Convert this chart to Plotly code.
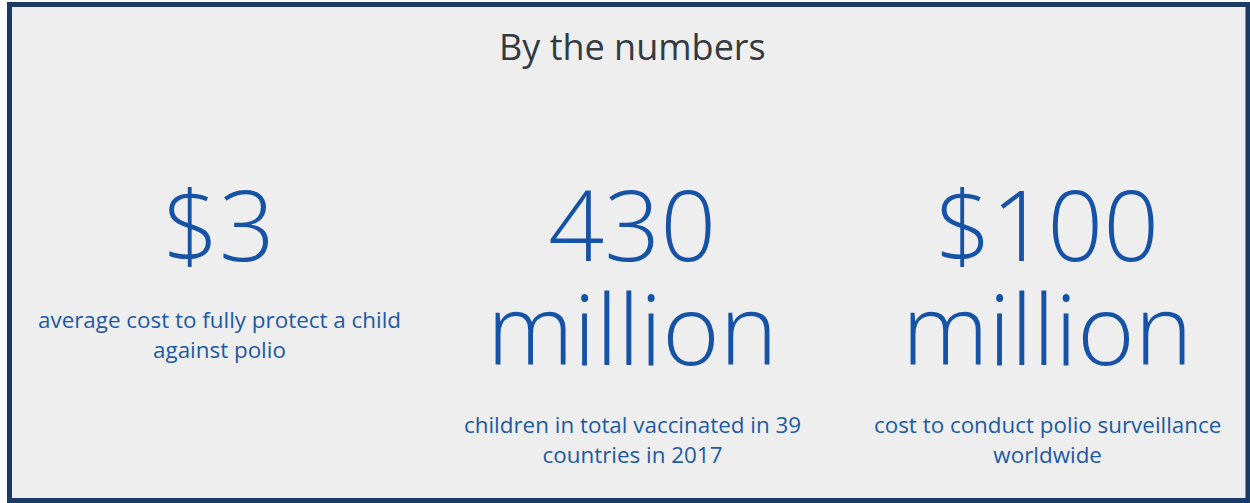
import plotly.graph_objects as go

title = "By the numbers"
big_lines = [["$3"], ["430", "million"], ["$100", "million"]]
small_lines = [
    ["average cost to fully protect a child", "against polio"],
    ["children in total vaccinated in 39", "countries in 2017"],
    ["cost to conduct polio surveillance", "worldwide"],
]

W, H = 1250, 503
col_x = [219, 632, 1047]

BIG_SIZE = 98
BIG_STEP = 104
SMALL_SIZE = 22.4
SMALL_STEP = 30
TITLE_SIZE = 36
big_base = [261, 261, 261]     # baseline of first big line (px from top)
small_base = [328, 433, 433]   # baseline of first small line

BIG_COLOR = "#1653a6"
SMALL_COLOR = "#1d5aa3"
TITLE_COLOR = "#333a42"


def center_for(baseline, n, size, step):
    # vertical centre of a text block whose first baseline is given
    if n == 1:
        return baseline - 0.388 * size
    return baseline + ((n - 1) * step - 0.776 * size) / 2


def block(lines, size, step):
    base = step / 1.3
    return "<br>".join(f"<span style='font-size:{size}px'>{t}</span>" for t in lines), base


fig = go.Figure()
anns = [dict(text=title, x=632.5 / W, y=1 - center_for(60, 1, TITLE_SIZE, 0) / H,
             xref="paper", yref="paper", showarrow=False,
             xanchor="center", yanchor="middle",
             font=dict(family="Open Sans", size=TITLE_SIZE, color=TITLE_COLOR))]

for i, lines in enumerate(big_lines):
    txt, base = block(lines, BIG_SIZE, BIG_STEP)
    cy = center_for(big_base[i], len(lines), BIG_SIZE, BIG_STEP)
    anns.append(dict(text=txt, x=col_x[i] / W, y=1 - cy / H,
                     xref="paper", yref="paper", showarrow=False,
                     xanchor="center", yanchor="middle", align="center",
                     font=dict(family="Open Sans", size=base, color=BIG_COLOR, weight=300)))

for i, lines in enumerate(small_lines):
    txt, base = block(lines, SMALL_SIZE, SMALL_STEP)
    cy = center_for(small_base[i], len(lines), SMALL_SIZE, SMALL_STEP)
    anns.append(dict(text=txt, x=col_x[i] / W, y=1 - cy / H,
                     xref="paper", yref="paper", showarrow=False,
                     xanchor="center", yanchor="middle", align="center",
                     font=dict(family="Open Sans", size=base, color=SMALL_COLOR)))

fig.update_layout(
    width=W, height=H,
    margin=dict(l=0, r=0, t=0, b=0),
    paper_bgcolor="#ffffff",
    plot_bgcolor="#ffffff",
    xaxis=dict(visible=False, range=[0, 1]),
    yaxis=dict(visible=False, range=[0, 1]),
    annotations=anns,
    shapes=[dict(type="rect", xref="paper", yref="paper",
                 x0=9.5 / W, x1=1248 / W, y0=1 - 500.5 / H, y1=1 - 4.5 / H,
                 line=dict(color="#1b3a66", width=5), fillcolor="#eeeeee", layer="below")],
)
fig.write_html("out.html", config={"displayModeBar": False},
               post_script="document.body.style.margin='0';")
